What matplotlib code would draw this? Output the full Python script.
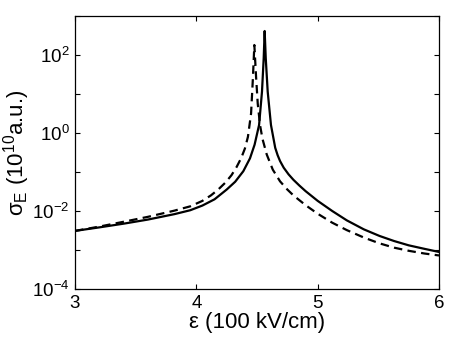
import matplotlib
matplotlib.use("Agg")
import matplotlib.pyplot as plt
import numpy as np

# Solid curve: field (100 kV/cm) and log10 of sigma_E (10^10 a.u.)
solid_x = [3.00, 3.20, 3.41, 3.60, 3.82, 3.95, 4.05, 4.15, 4.25, 4.32, 4.387, 4.442,
           4.48, 4.517, 4.541, 4.555, 4.563, 4.572, 4.588, 4.615, 4.65, 4.67, 4.69, 4.72,
           4.76, 4.80, 4.85, 4.90, 5.00, 5.12, 5.24, 5.38, 5.51, 5.63, 5.75, 5.88, 6.00]
solid_logy = [-2.51, -2.42, -2.32, -2.22, -2.08, -1.98, -1.86, -1.70, -1.45, -1.25, -0.98, -0.65,
              -0.30, 0.205, 1.06, 1.915, 2.615, 1.915, 1.06, 0.205, -0.38, -0.57, -0.72, -0.89,
              -1.06, -1.20, -1.35, -1.49, -1.74, -2.00, -2.24, -2.47, -2.64, -2.77, -2.88, -2.97, -3.05]

# Dashed curve
dash_x = [3.00, 3.20, 3.41, 3.60, 3.82, 3.95, 4.05, 4.12, 4.18, 4.24, 4.29, 4.332,
          4.37, 4.40, 4.425, 4.451, 4.466, 4.478, 4.492, 4.506, 4.525, 4.545, 4.58,
          4.63, 4.69, 4.75, 4.80, 4.90, 5.00, 5.12, 5.24, 5.38, 5.51, 5.63, 5.75, 5.88, 6.00]
dash_logy = [-2.51, -2.40, -2.27, -2.15, -1.99, -1.88, -1.74, -1.60, -1.45, -1.27, -1.08, -0.87,
             -0.64, -0.40, -0.10, 0.50, 1.40, 2.256, 1.45, 0.75, 0.20, -0.15, -0.55,
             -0.94, -1.24, -1.45, -1.60, -1.85, -2.07, -2.30, -2.49, -2.68, -2.83, -2.94, -3.02, -3.09, -3.14]

ytick_exp = [-4, -3, -2, -1, 0, 1, 2, 3]
ylabel_exp = [-4, -2, 0, 2]
xticks = [3, 4, 5, 6]

plt.rcParams['font.family'] = ['Liberation Sans', 'DejaVu Sans']
plt.rcParams['mathtext.fontset'] = 'custom'
plt.rcParams['mathtext.rm'] = 'Liberation Sans'
plt.rcParams['mathtext.it'] = 'Liberation Sans:italic'
plt.rcParams['mathtext.bf'] = 'Liberation Sans:bold'

fig = plt.figure(figsize=(4.5, 3.43), dpi=100)
ax = fig.add_axes([0.1667, 0.1574, 0.8089, 0.796])

ax.plot(solid_x, 10.0 ** np.array(solid_logy), color='black', lw=1.6, ls='-')
ax.plot(dash_x, 10.0 ** np.array(dash_logy), color='black', lw=1.6, ls=(0, (3.8, 2.4)))

ax.set_yscale('log')
ax.set_xlim(3, 6)
ax.set_ylim(1e-4, 1e3)
ax.set_xticks(xticks)
ax.set_xticklabels([str(v) for v in xticks])
ax.set_yticks([10.0 ** e for e in ytick_exp])
ax.set_yticklabels([(r'$10^{%d}$' % e) if e in ylabel_exp else '' for e in ytick_exp])
ax.minorticks_off()
ax.tick_params(direction='in', top=True, right=True, length=3.5, width=0.8,
               labelsize=13.5, pad=4)
for s in ax.spines.values():
    s.set_linewidth(0.9)

ax.set_xlabel('ε (100 kV/cm)', fontsize=16, labelpad=0)
ax.set_ylabel(r'σ$_\mathrm{E}$ (10$^{10}$a.u.)', fontsize=16, labelpad=0)

fig.savefig('out.png', dpi=100)
